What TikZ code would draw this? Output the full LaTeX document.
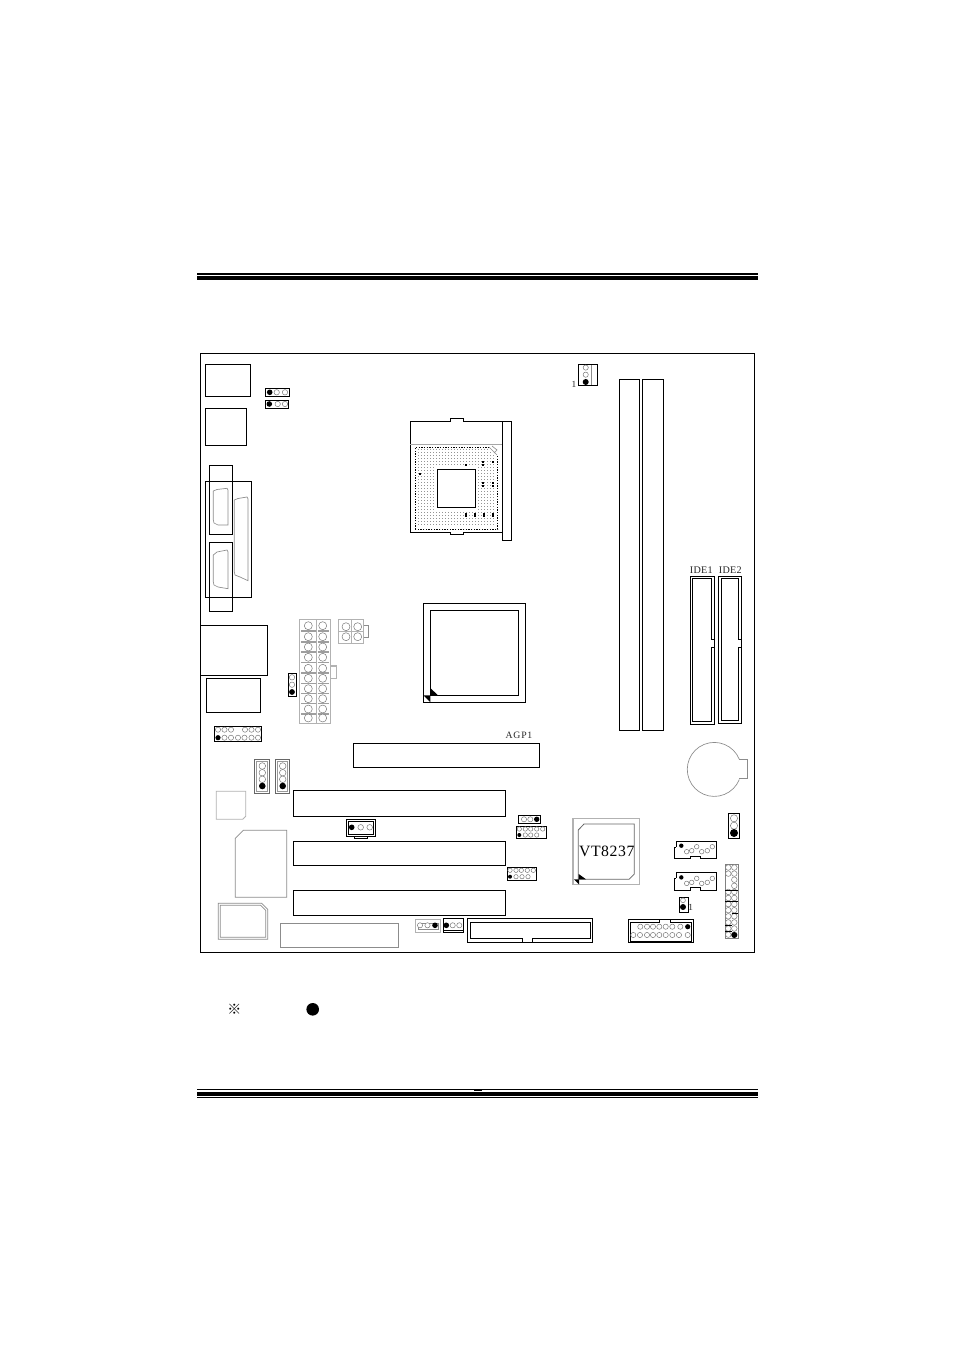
\documentclass[tikz,border=0pt]{standalone}
\usepackage{fontspec}
\setmainfont{Liberation Serif}
\newfontfamily\cjkfont{Noto Sans CJK SC}
\tikzset{
  x=0.75pt,y=-0.75pt,
  bk/.style={draw=black,line width=0.75pt},
  gy/.style={draw=black!45,line width=0.5pt},
  lg/.style={draw=black!30,line width=0.9pt},
  pin/.style={draw=black!55,line width=0.35pt,fill=white},
  lab/.style={inner sep=0pt,text=black!85,font=\fontsize{7pt}{8pt}\selectfont},
}
\newcommand{\pc}[3]{\draw[pin] (#1,#2) circle[radius=#3];}
\newcommand{\pd}[3]{\fill[black] (#1,#2) circle[radius=#3];}
\begin{document}
\begin{tikzpicture}
\useasboundingbox (0,0) rectangle (954,1351);
\fill[white] (0,0) rectangle (954,1351);
% page rules
\fill (197,273) rectangle (758,275);
\fill (197,276) rectangle (758,280.3);
\fill (197,1089) rectangle (758,1090.3);
\fill (197,1092) rectangle (758,1096);
\fill (197,1097) rectangle (758,1098.2);
\fill (474,1090) rectangle (482,1091.2);
% board
\draw[bk] (200.5,353.5) rectangle (754,952);
% rear connectors
\draw[bk] (205.3,364.3) rectangle (250.7,396.3);
\draw[bk] (205.3,408.7) rectangle (246.7,445.3);
\draw[bk] (209.3,465.3) rectangle (232.7,534.3);
\draw[bk] (205.3,481.3) rectangle (251.3,597.7);
\draw[bk] (209.3,542.3) rectangle (232.7,611.7);
\draw[bk] (200.5,625.3) rectangle (267.3,675.3);
\draw[bk] (206.3,678.7) rectangle (260.3,712.3);
\draw[gy] (213.3,491) -- (217,489.5) -- (227,488.3) -- (228,490) -- (228,525) -- (218,525) -- (214,523) -- (213.3,520) -- cycle;
\draw[gy] (213.3,555) -- (217,552) -- (227,550) -- (228,552) -- (228,588.7) -- (218,587) -- (214,585) -- (213.3,582) -- cycle;
\draw[gy] (234.3,500) -- (238,498.5) -- (247,497) -- (248,499) -- (248,580.7) -- (240,577) -- (235,575) -- (234.3,572) -- cycle;
% small jumpers top left
\draw[bk] (265.3,388.3) rectangle (289.7,396.3);
\pd{269.7}{392.3}{2.8}\pc{276.7}{392.3}{2.7}\pc{285}{392.3}{2.7}
\draw[bk] (265.3,400.3) rectangle (288.7,408.7);
\pd{269.3}{404}{2.8}\pc{277.7}{404}{2.7}\pc{285}{404}{2.7}
% CPU socket
\draw[bk] (410.3,421.7) -- (450,421.7) -- (450,418.3) -- (463.3,418.3) -- (463.3,421.7) -- (502.3,421.7) -- (502.3,532.3) -- (463.3,532.3) -- (463.3,534.7) -- (450,534.7) -- (450,532.3) -- (410.3,532.3) -- cycle;
\draw[bk] (502.3,421) rectangle (511.7,540.7);
\draw[black!35,line width=0.6pt] (410.3,444.3) -- (502.3,444.3);
\foreach \yy in {449.5,452.5,...,527}{\foreach \xx in {418.5,421.5,...,495}{
  \pgfmathparse{(\xx>434 && \xx<478.5 && \yy>466 && \yy<510) || (\xx+447-\yy>486.5) ? 1 : 0}
  \ifnum\pgfmathresult=0 \fill[black!42] (\xx-0.85,\yy-0.75) rectangle (\xx+0.85,\yy+0.75);\fi}}
\draw[black,line width=0.8pt,dash pattern=on 1pt off 1pt] (415.3,529.3) -- (415.3,447.3) -- (489,447.3);
\draw[black,line width=0.8pt,dash pattern=on 1pt off 1pt] (497.7,456) -- (497.7,529.3) -- (415.3,529.3);
\draw[black!45,line width=0.5pt] (489,447) -- (497,455) (492,446) -- (497,450) -- (494,453);
\foreach \xx/\yy in {466/465,483.3/461.7,492.7/461.7,483.3/465,420/473.7,483.3/482.7,492.7/482.7,483.3/486,492.7/486,466/513.5,475/513.5,483.5/513.5,492.5/513.5,466/516,475/516,483.5/516,492.5/516}
  {\fill (\xx-1,\yy-1) rectangle (\xx+1,\yy+1);}
\draw[bk,fill=white] (437.3,469.7) rectangle (475.7,507.3);
% DIMMs
\draw[bk] (619,380) rectangle (639.7,730.7);
\draw[bk] (642.3,380) rectangle (663.7,730.7);
% top-right connector
\draw[bk] (578.3,364.7) rectangle (597.3,385.7);
\draw[gy] (591.7,365.5) -- (591.7,385);
\pc{585.7}{367.6}{2.6}\pc{585.7}{374.7}{2.6}\pd{585.7}{382}{3}
\node[lab] (one1) at (574,384.7) {1};
% IDE
\draw[bk] (690.3,576) rectangle (714.7,724.3);
\draw[bk] (714.7,639.3) -- (711.3,639.3) -- (711.3,578.3) -- (692.7,578.3) -- (692.7,721.7) -- (711.3,721.7) -- (711.3,647.3) -- (714.7,647.3);
\draw[bk] (718.3,576) rectangle (741.7,723.3);
\draw[bk] (741.7,639.3) -- (738.7,639.3) -- (738.7,578.3) -- (721,578.3) -- (721,720.7) -- (738.7,720.7) -- (738.7,647.3) -- (741.7,647.3);
\node[lab,font=\fontsize{7.6pt}{8pt}\selectfont] (ide1) at (701.3,570) {\addfontfeature{LetterSpace=3}IDE1};
\node[lab,font=\fontsize{7.6pt}{8pt}\selectfont] (ide2) at (730.3,570) {\addfontfeature{LetterSpace=3}IDE2};
% battery
\draw[gy] (739.3,759.3) -- (747,759.3) -- (747,778.7) -- (739.3,778.7);
\draw[gy] (739.3,759.3) arc[start angle=-22,end angle=-338,radius=27];
% north bridge
\draw[bk] (423.3,603.3) rectangle (525.7,702.3);
\draw[bk] (430.3,610.3) rectangle (518.7,695.3);
\fill (430.3,688) -- (438,695.3) -- (430.3,695.3) -- cycle;
\fill (423.3,695.3) -- (430.3,695.3) -- (430.3,702.3) -- cycle;
% ATX power
\draw[lg] (299.7,619.3) rectangle (330.3,723.3);
\draw[lg] (316.5,619.3) -- (316.5,723.3);
\draw[lg] (330.3,666) -- (336.7,666) -- (336.7,678.3) -- (330.3,678.3);
\foreach \yy in {631,642,652,662.5,673,683.5,693.5,703.5,714}{\draw[draw=black!38,line width=0.9pt] (301,\yy) -- (315.5,\yy) (317.5,\yy) -- (329,\yy);}
\foreach \yy in {625.7,636.7,647,657.3,668.3,678.3,688.7,698.7,709,718}{
  \pc{308.3}{\yy}{4}\pc{322.7}{\yy}{4}}
% 4 pin power
\draw[lg] (338.7,619.3) rectangle (363.7,643.3);
\draw[gy] (363.7,625.3) -- (368.7,625.3) -- (368.7,637.7) -- (363.7,637.7);
\draw[draw=black!30,line width=0.9pt] (351.5,619.3) -- (351.5,643.3) (338.7,631.5) -- (363.7,631.5);
\foreach \xx/\yy in {346/626.7,357.7/626.7,346/636.7,357.7/636.7}{\pc{\xx}{\yy}{4}}
% jumper near ATX
\draw[bk] (288.3,673.3) rectangle (296.7,696.3);
\pc{292}{677.3}{2.7}\pc{292}{684.7}{2.7}\pd{292}{692}{2.9}
% header left
\draw[bk] (214.3,726.3) rectangle (261.7,741.3);
\foreach \xx in {218,224.5,231,245,251.5,258}{\pc{\xx}{729.7}{2.6}}
\pd{218}{737.7}{2.6}
\foreach \xx in {224.5,231,238,244.5,251.5,258}{\pc{\xx}{737.7}{2.6}}
% 4-pin jumpers
\draw[draw=black!60,line width=0.6pt] (254.3,759.3) rectangle (269.7,793.7);
\draw[draw=black!40,line width=0.4pt] (256.5,761) rectangle (267.5,791.5);
\draw[draw=black!60,line width=0.6pt] (275.3,759.3) rectangle (289.7,793.7);
\draw[draw=black!40,line width=0.4pt] (277.5,761) rectangle (287.5,791.5);
\foreach \yy in {766,772.7,779.3}{\pc{262.3}{\yy}{3.3}\pc{282.7}{\yy}{3.3}}
\pd{262.3}{786}{3.3}\pd{282.7}{786}{3.3}
% slots
\draw[bk] (353.3,743.3) rectangle (539.5,767.3);
\node[lab,font=\fontsize{7.3pt}{8pt}\selectfont] (agp) at (519,735) {\addfontfeature{LetterSpace=8}AGP1};
\draw[bk] (293.3,790.3) rectangle (505.5,816.3);
\draw[bk] (293.3,841.3) rectangle (505.5,865.3);
\draw[bk] (293.3,890.3) rectangle (505.5,915.3);
% gray chips
\draw[lg,line width=0.6pt] (216.3,791.3) -- (245.7,791.3) -- (245.7,816.3) -- (242.7,819.3) -- (216.3,819.3) -- cycle;
\draw[gy] (243.3,830.3) -- (286.7,830.3) -- (286.7,897.3) -- (235.3,897.3) -- (235.3,838.3) -- cycle;
\draw[gy] (218.3,903.3) -- (261.7,903.3) -- (267.7,909.3) -- (267.7,939.3) -- (218.3,939.3) -- cycle;
\draw[gy] (220.3,905.3) -- (260.7,905.3) -- (265.7,910.3) -- (265.7,937.3) -- (220.3,937.3) -- cycle;
\draw[gy] (280.3,923.3) rectangle (398.7,947.3);
% fan header
\draw[bk] (346.3,819.3) rectangle (375.7,836.7);
\draw[bk] (348.3,821.3) rectangle (373.7,834.7);
\draw[bk] (354.3,836.7) -- (354.3,838.7) -- (367.7,838.7) -- (367.7,836.7);
\pd{351.7}{827.3}{2.8}\pc{360.7}{827.3}{2.8}\pc{369.7}{827.3}{2.8}
% bottom small connectors
\draw[lg] (415.3,919.3) rectangle (440.3,932.7);
\draw[gy] (418,923) rectangle (438,929);
\pc{420}{925.3}{2.6}\pc{427.5}{925.3}{2.6}\pd{435}{925.3}{2.8}
\draw[bk] (443.3,918.3) rectangle (463.7,932.3);
\draw[bk] (443.3,930.7) -- (463.7,930.7);
\pd{446.3}{925.3}{2.8}\pc{452.7}{925.3}{2.6}\pc{459.3}{925.3}{2.6}
% floppy
\draw[bk] (467.3,918.3) rectangle (592.3,942.7);
\draw[bk] (522.7,942.7) -- (522.7,938) -- (470.3,938) -- (470.3,922.3) -- (590,922.3) -- (590,938) -- (532.3,938) -- (532.3,942.7);
% headers mid
\draw[bk] (518,815) rectangle (540.3,823.7);
\pc{524}{819.3}{2.6}\pc{530.3}{819.3}{2.6}\pd{536.7}{819.3}{2.7}
\draw[bk] (516.3,826.3) rectangle (546.7,838);
\foreach \xx in {519.3,525.3,530.7,536.7,542.7}{\pc{\xx}{829}{2.2}}
\pd{519.3}{835}{2}
\foreach \xx in {525.3,530.7,536.7}{\pc{\xx}{835}{2.2}}
\draw[bk] (507.3,867.3) rectangle (536.7,880.3);
\foreach \xx in {510,516,521.3,527.3,533.3}{\pc{\xx}{870.3}{2.2}}
\pd{510}{876.7}{2}
\foreach \xx in {516,522,528}{\pc{\xx}{876.7}{2.2}}
% VT8237
\draw[lg] (573,818.3) rectangle (639.3,884.3);
\draw[black!60,line width=0.6pt] (584,824) -- (634.3,824) -- (634.3,874) -- (629,879.3) -- (578.3,879.3) -- (578.3,830) -- cycle;
\node[inner sep=0pt,font=\fontsize{11.8pt}{13pt}\selectfont] (vt) at (606.8,851.7) {\addfontfeature{LetterSpace=4}VT8237};
\fill (578.7,874) -- (586,879.3) -- (578.7,879.3) -- cycle;
\fill (574,879.3) -- (579,879.3) -- (579,884.3) -- cycle;
% right jumper
\draw[bk] (728.3,813.7) rectangle (739.3,838.3);
\pc{734}{818.3}{3.6}\pc{734}{825.7}{3.6}\pd{734}{833}{4}
% USB-like connectors
\draw[bk] (676,847) -- (676,841.7) -- (716.7,841.7) -- (716.7,858.7) -- (700.5,858.7) -- (700.5,856.3) -- (690,856.3) -- (690,858.7) -- (674.3,858.7) -- (674.3,847) -- (676,847);
\draw[bk] (676,878) -- (676,872.3) -- (716.7,872.3) -- (716.7,890.7) -- (700.5,890.7) -- (700.5,887.3) -- (690,887.3) -- (690,890.7) -- (674.3,890.7) -- (674.3,878) -- (676,878);
\foreach \dy in {0,31.7}{
  \pd{681.3}{845.7+\dy}{2.2}
  \foreach \xx/\yy in {686.7/851.7,691.7/850.7,696.7/846.7,701.7/851.7,707.3/850.7,712.3/846.7}{\pc{\xx}{\yy+\dy}{2.3}}}
% small jumper
\draw[bk] (679.3,897.7) rectangle (688.7,912.7);
\pc{683}{900.3}{2.4}\pd{683}{907}{3}
\node[lab] (one2) at (690.6,907.3) {1};
% bottom header
\draw[bk] (628.3,919.3) rectangle (693.7,942.7);
\draw[bk] (659.3,919.3) -- (659.3,922.3) -- (630.3,922.3) -- (630.3,941) -- (691.7,941) -- (691.7,922.3) -- (670,922.3) -- (670,919.3);
\foreach \xx in {640.3,647,653,659.3,665.7,672.3,680.3}{\pc{\xx}{926.7}{2.6}}
\pd{687.7}{926.7}{2.6}
\foreach \xx in {633.3,640,647,653,659.3,665.7,672.3,679,687.7}{\pc{\xx}{935}{2.6}}
% front panel
\draw[draw=black!50,line width=0.6pt] (725,864.3) rectangle (738,938.3);
\foreach \yy in {867.5,873.6,879.7,885.8,891.9,898,904.1,910.2,916.3,922.4,928.5,934.6}{\pc{734.3}{\yy}{2.8}}
\foreach \yy in {867.5,873.6,891.9,898,904.1,910.2,916.3,922.4,928.5,934.6}{\pc{728.3}{\yy}{2.8}}
\draw[draw=black,line width=0.6pt] (725,890) -- (738,890) (725,901.7) -- (738,901.7) (731.7,913.3) -- (738,913.3) (725,925.7) -- (731.7,925.7) (725,931.7) -- (731.7,931.7);
\pd{734.3}{935}{3}
% legend
\node[inner sep=0pt,font=\cjkfont\fontsize{10.5pt}{11pt}\selectfont] (ref) at (234.3,1009.5) {※};
\pd{312.7}{1009.3}{6.3}
\end{tikzpicture}
\end{document}
